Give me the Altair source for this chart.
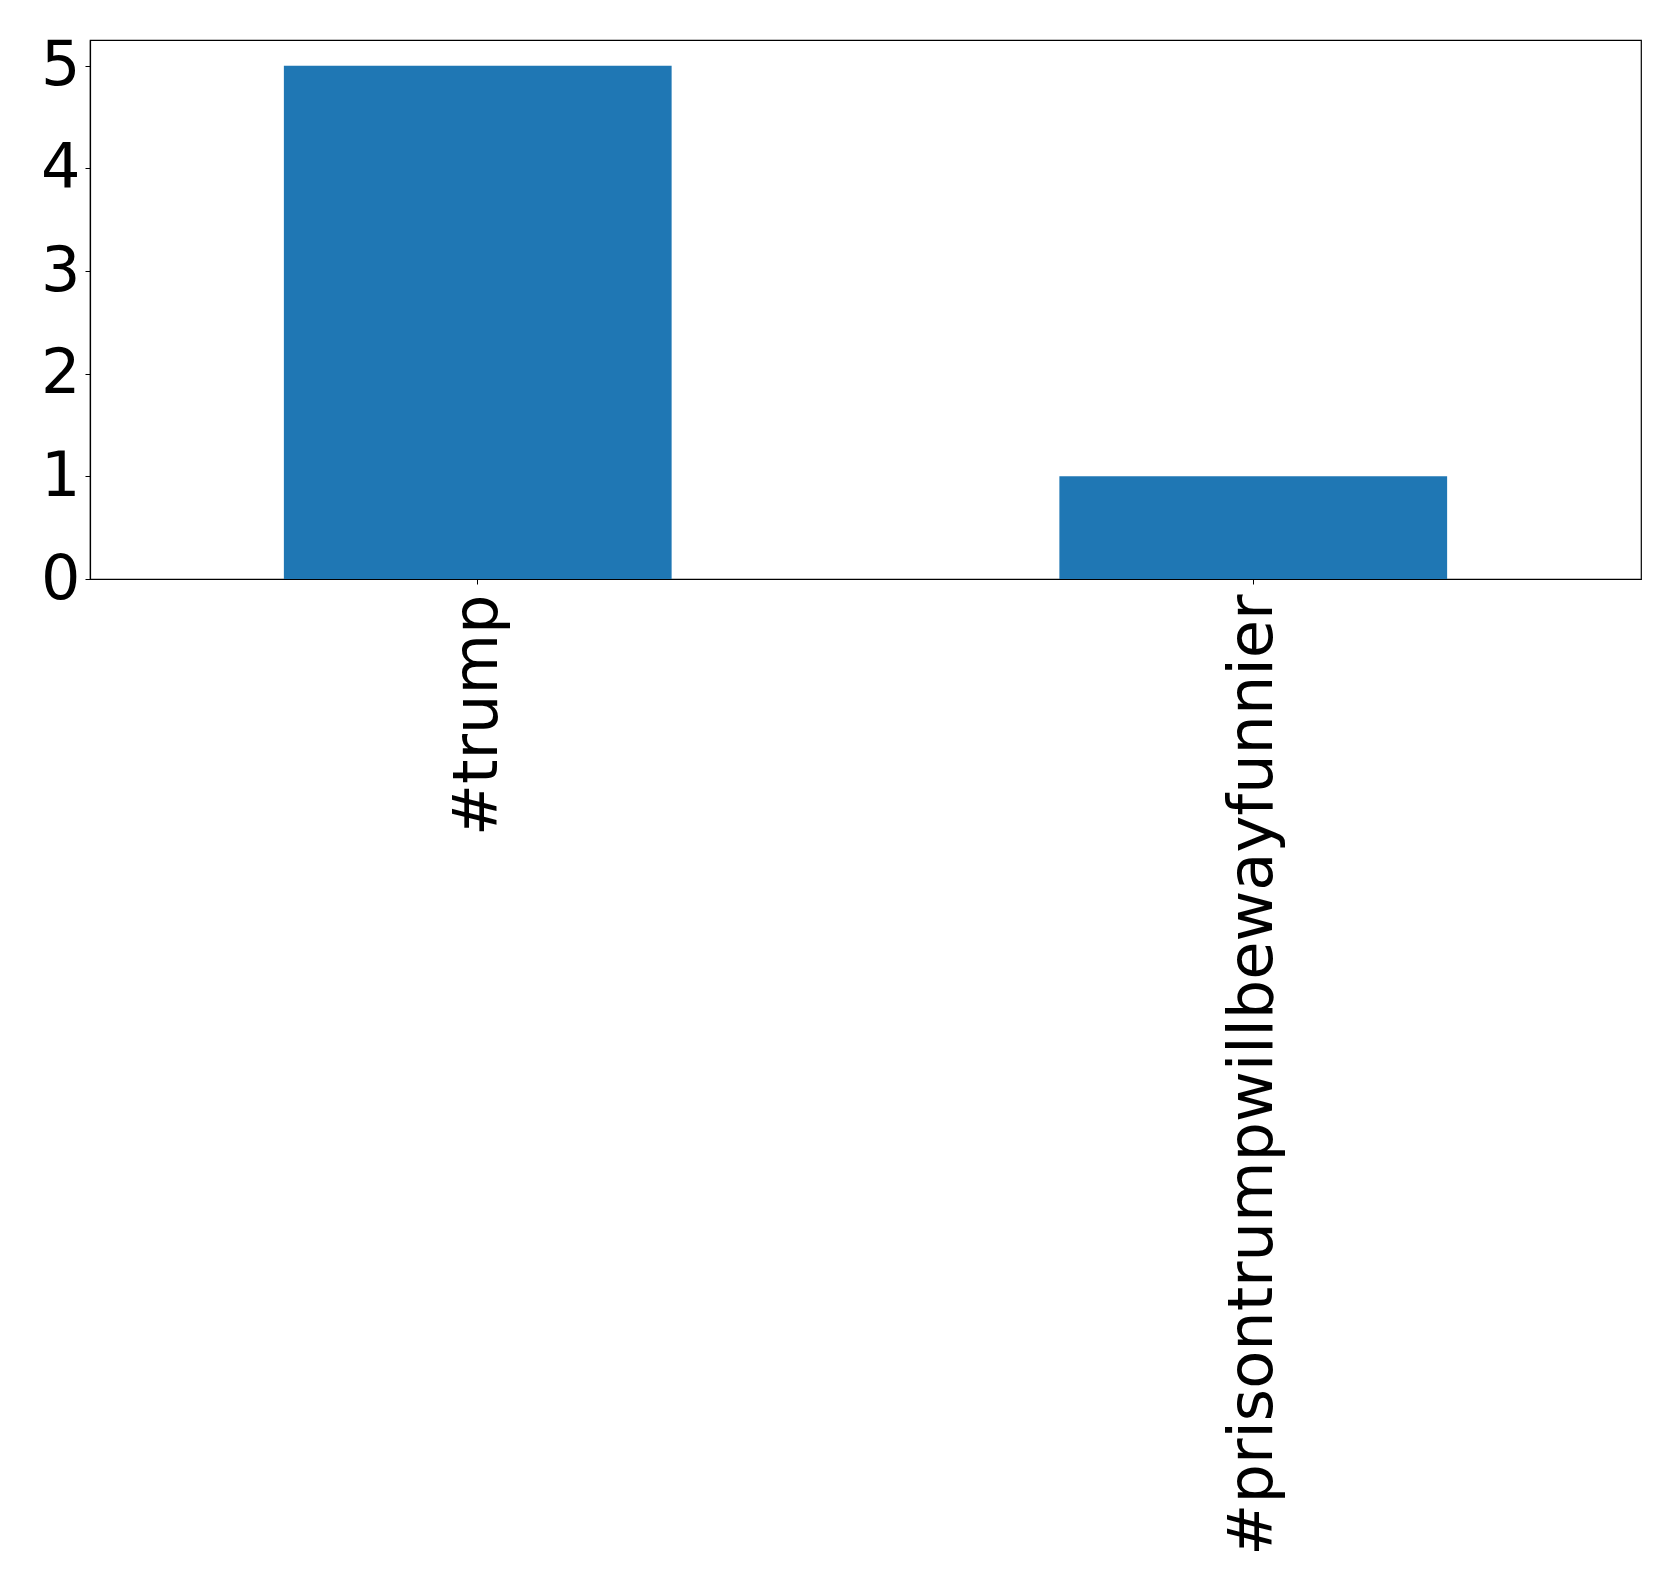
import altair as alt
import pandas as pd

hashtags = ["#trump", "#prisontrumpwillbewayfunnier"]
counts = [5, 1]

df = pd.DataFrame({"hashtag": hashtags, "count": counts})

chart = alt.Chart(df).mark_bar(color="#1f77b4").encode(
    x=alt.X("hashtag:N", sort=None, title=None,
            scale=alt.Scale(paddingInner=0.5, paddingOuter=0.25),
            axis=alt.Axis(labelAngle=-90, labelFontSize=62.2, labelFont="DejaVu Sans",
                          labelColor="black", tickColor="black", domainColor="black",
                          tickSize=5, labelPadding=10, labelLimit=2000, domainWidth=1.2)),
    y=alt.Y("count:Q", title=None,
            scale=alt.Scale(domain=[0, 5.25], nice=False, zero=True),
            axis=alt.Axis(values=[0, 1, 2, 3, 4, 5], grid=False, labelFontSize=62,
                          labelFont="DejaVu Sans", labelColor="black", tickColor="black",
                          domainColor="black", tickSize=5, labelPadding=5, format="d",
                          labelBaseline="middle", domainWidth=1.2)),
).properties(
    width=1551, height=539,
    autosize=alt.AutoSizeParams(type="none"),
    padding={"left": 82, "top": 32, "right": 30, "bottom": 1010},
    background="white",
).configure_view(stroke="#000000", strokeWidth=1.2, strokeOpacity=1)

chart.save("out.html", embed_options={"renderer": "svg", "actions": False})
